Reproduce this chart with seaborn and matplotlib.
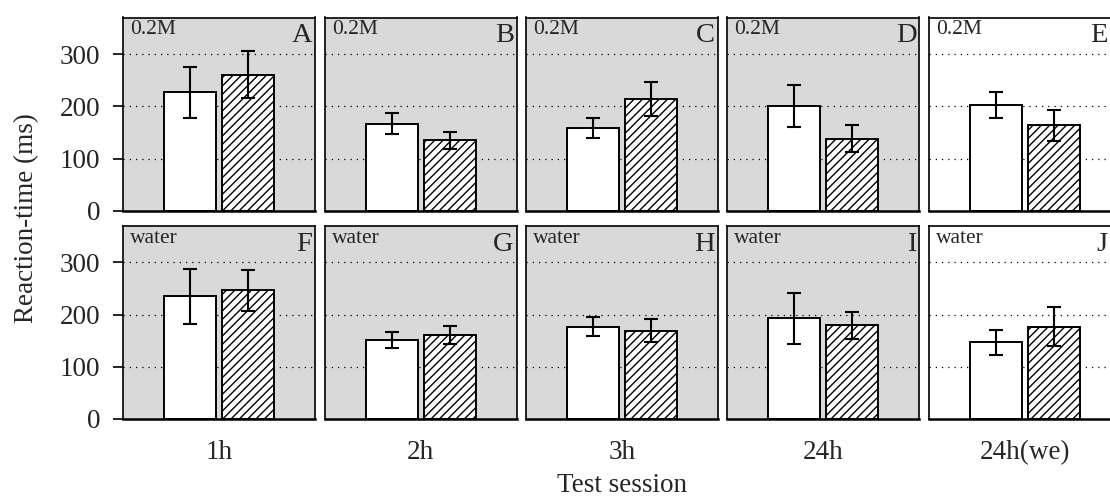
import matplotlib
matplotlib.use("Agg")
import matplotlib.pyplot as plt
import seaborn as sns
import pandas as pd
import numpy as np

# ---- data ----
sessions = ["1h", "2h", "3h", "24h", "24h(we)"]
conditions = ["open", "hatched"]
row_labels = ["0.2M", "water"]
panel_letters = [["A", "B", "C", "D", "E"], ["F", "G", "H", "I", "J"]]

m02_open = [227, 167, 159, 201, 203]
m02_open_err = [49, 20, 19.5, 40.5, 24.5]
m02_hatch = [260, 135, 214, 138, 164]
m02_hatch_err = [45, 16, 32.5, 26, 29.5]

water_open = [235, 151, 177, 193, 147]
water_open_err = [53, 15.5, 19, 48.5, 24]
water_hatch = [246, 161, 169, 179, 177]
water_hatch_err = [38.5, 17, 22, 26.5, 38]

yticks = [0, 100, 200, 300]

# ---- style ----
sns.set_theme(style="ticks")
plt.rcParams["font.family"] = ["Liberation Serif", "DejaVu Serif"]
plt.rcParams["hatch.linewidth"] = 1.0
plt.rcParams["hatch.color"] = "black"

W, H = 1110, 499
fig = plt.figure(figsize=(W / 100, H / 100), dpi=100)

rows = [
    (m02_open, m02_open_err, m02_hatch, m02_hatch_err),
    (water_open, water_open_err, water_hatch, water_hatch_err),
]
row_tops = [17.5, 225.7]
panel_h = 193.3
panel_w = 192.0
left0 = 123.3
step = 201.35
px_per_unit = 58.0
x_lo = -1.155

for r, (mo, eo, mh, eh) in enumerate(rows):
    for c, sess in enumerate(sessions):
        left = left0 + c * step
        top = row_tops[r]
        w = min(panel_w, W + 0.6 - left)
        ax = fig.add_axes([left / W, 1 - (top + panel_h) / H, w / W, panel_h / H])
        bg = "white" if sess == "24h(we)" else "#d9d9d9"
        ax.set_facecolor(bg)
        df = pd.DataFrame({"cond": conditions, "rt": [mo[c], mh[c]]})
        sns.barplot(data=df, x="cond", y="rt", ax=ax, color="white",
                    edgecolor="black", linewidth=1.4, width=0.9,
                    errorbar=None, saturation=1)
        for p in ax.patches:
            p.set_facecolor("white")
        ax.patches[1].set_hatch("////")
        ax.errorbar([0, 1], [mo[c], mh[c]], yerr=[eo[c], eh[c]], fmt="none",
                    ecolor="black", elinewidth=1.5, capsize=4.7, capthick=1.5,
                    zorder=5)
        ax.set_xlim(x_lo, x_lo + w / px_per_unit)
        ax.set_ylim(0, 370)
        ax.set_yticks(yticks)
        ax.set_axisbelow(True)
        ax.yaxis.grid(True, linestyle=(0, (1, 4)), color="black", linewidth=0.9)
        ax.xaxis.grid(False)
        ax.set_xticks([])
        ax.set_xlabel("")
        ax.set_ylabel("")
        for s in ax.spines.values():
            s.set_visible(True)
            s.set_color("black")
            s.set_linewidth(1.2)
        ax.spines["bottom"].set_linewidth(1.8)
        if c == 0:
            ax.tick_params(axis="y", length=7.5, width=1.2, pad=9,
                           labelsize=19.5, color="black", direction="out")
        else:
            ax.tick_params(axis="y", length=0, labelleft=False)
        ax.text(7 / w, 1 - 3 / panel_h, row_labels[r], transform=ax.transAxes,
                ha="left", va="top", fontsize=15.5)
        ax.text(1 - 3 / w, 1 - 6 / panel_h, panel_letters[r][c],
                transform=ax.transAxes, ha="right", va="top", fontsize=20.5)
        if r == 1:
            fig.text((left + panel_w / 2) / W, 1 - 459 / H, sess,
                     ha="center", va="baseline", fontsize=19.5)

fig.text(27 / W, 1 - 218 / H, "Reaction-time (ms)", rotation=90,
         ha="center", va="center", fontsize=19.5)
fig.text(622 / W, 1 - 492 / H, "Test session", ha="center", va="baseline",
         fontsize=19.5)

fig.savefig("out.png", dpi=100)
